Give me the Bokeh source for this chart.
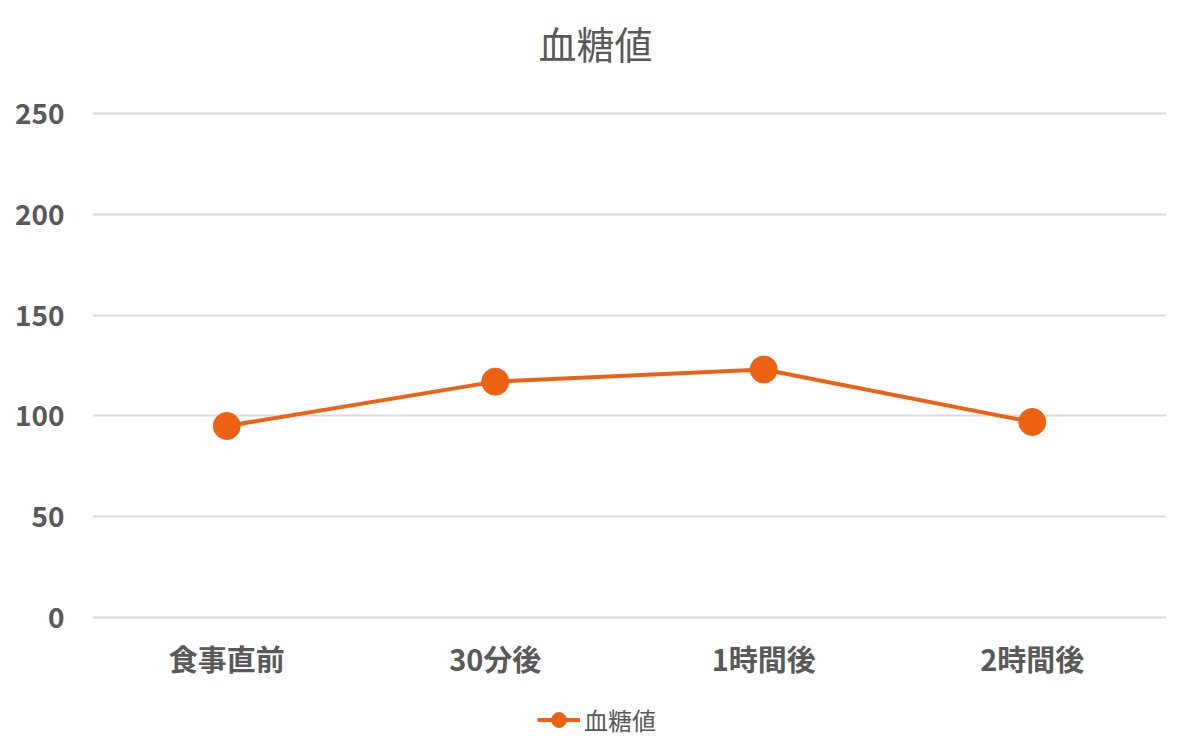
from bokeh.plotting import figure
from bokeh.layouts import column
from bokeh.models import FactorRange, Range1d, FixedTicker, Legend, LegendItem, ColumnDataSource, Label
from bokeh.embed import file_html
from bokeh.resources import INLINE

categories = ["食事直前", "30分後", "1時間後", "2時間後"]
values = [95, 117, 123, 97]
y_ticks = [0, 50, 100, 150, 200, 250]
title_text = "血糖値"
series_name = "血糖値"

ORANGE = "#EC6212"
GRAY = "#595959"
FONT = "Noto Sans CJK JP"

BORDER_L, BORDER_R, FRAME_W = 92, 21, 1074

# ---- title strip ----
tf = figure(frame_width=FRAME_W, frame_height=87, x_range=Range1d(92, 1166), y_range=Range1d(0, 87),
            x_axis_type=None, y_axis_type=None,
            min_border_left=BORDER_L, min_border_right=BORDER_R, min_border_top=0, min_border_bottom=0,
            output_backend="svg", toolbar_location=None)
tf.outline_line_color = None
tf.add_layout(Label(x=595, y=45, text=title_text, text_align="center", text_baseline="middle",
                    text_font=FONT, text_font_size="38px", text_color=GRAY))

# ---- main chart ----
p = figure(frame_width=FRAME_W, frame_height=508, x_range=FactorRange(*categories, range_padding=0),
           y_range=Range1d(-1, 251), output_backend="svg", toolbar_location=None,
           min_border_left=BORDER_L, min_border_right=BORDER_R, min_border_top=24, min_border_bottom=80)
p.outline_line_color = None
p.background_fill_color = "white"
p.border_fill_color = "white"

src = ColumnDataSource(dict(x=categories, y=values))
p.line("x", "y", source=src, line_color=ORANGE, line_width=4)
p.scatter("x", "y", source=src, size=27, fill_color=ORANGE, line_color=ORANGE)

p.xgrid.grid_line_color = None
p.ygrid.grid_line_color = "#D9D9D9"
p.ygrid.grid_line_width = 2
p.ygrid.ticker = FixedTicker(ticks=y_ticks)

p.yaxis.ticker = FixedTicker(ticks=y_ticks)
for ax in (p.xaxis, p.yaxis):
    ax.axis_line_color = None
    ax.major_tick_line_color = None
    ax.minor_tick_line_color = None
    ax.major_label_text_font = FONT
    ax.major_label_text_font_style = "bold"
    ax.major_label_text_color = GRAY
p.yaxis.major_label_text_font_size = "28px"
p.xaxis.major_label_text_font_size = "29px"
p.yaxis.major_label_standoff = 22
p.xaxis.major_label_standoff = 11

# ---- legend strip ----
lf = figure(frame_width=FRAME_W, frame_height=57, x_range=FactorRange(*categories), y_range=Range1d(1000, 1001),
            x_axis_type=None, y_axis_type=None,
            min_border_left=BORDER_L, min_border_right=BORDER_R, min_border_top=0, min_border_bottom=0,
            output_backend="svg", toolbar_location=None)
lf.outline_line_color = None
lf.xgrid.grid_line_color = None
lf.ygrid.grid_line_color = None
ll = lf.line("x", "y", source=src, line_color=ORANGE, line_width=4)
ls = lf.scatter("x", "y", source=src, size=15, fill_color=ORANGE, line_color=ORANGE)
legend = Legend(items=[LegendItem(label=series_name, renderers=[ll, ls])],
                location=(445, 18), orientation="horizontal",
                label_text_font=FONT, label_text_font_size="24px", label_text_color=GRAY,
                glyph_width=43, glyph_height=37, label_standoff=4,
                border_line_color=None, background_fill_alpha=0, padding=0, margin=0)
lf.add_layout(legend, "center")

layout = column(tf, p, lf, spacing=0)
open("out.html", "w").write(file_html(layout, INLINE))
